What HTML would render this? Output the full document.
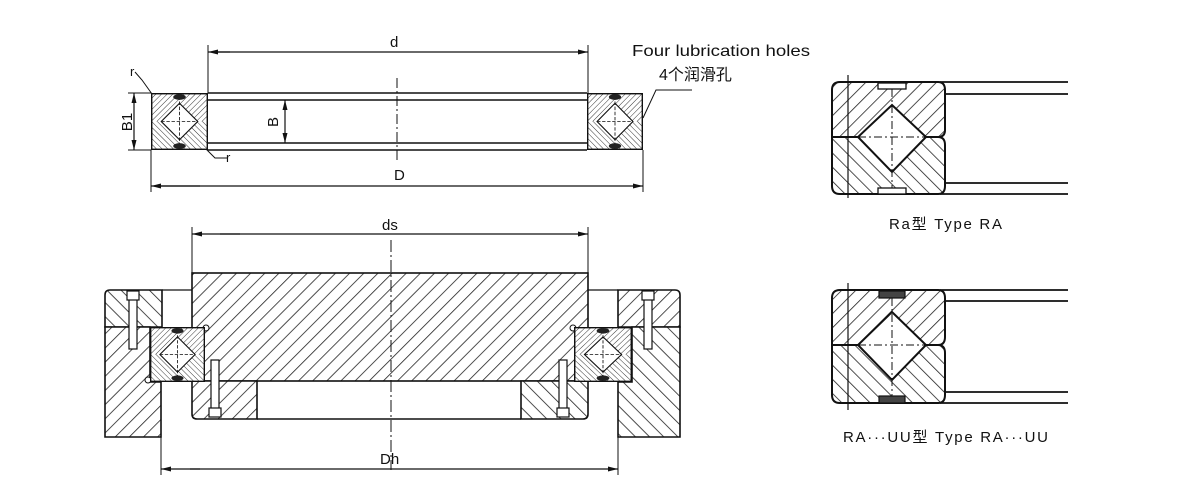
<!DOCTYPE html>
<html><head><meta charset="utf-8"><style>
html,body{margin:0;padding:0;background:#fff;}
svg{display:block;}
text{font-family:"Liberation Sans","Noto Sans CJK SC",sans-serif;fill:#111;}
</style></head><body>
<svg width="1200" height="500" viewBox="0 0 1200 500" xmlns="http://www.w3.org/2000/svg">
<defs>
<pattern id="hs" patternUnits="userSpaceOnUse" width="7" height="7" patternTransform="rotate(45)">
<rect width="7" height="7" fill="#fff"/><line x1="0" y1="0" x2="0" y2="7" stroke="#222" stroke-width="1.6"/></pattern>
<pattern id="hb" patternUnits="userSpaceOnUse" width="7" height="7" patternTransform="rotate(-45)">
<rect width="7" height="7" fill="#fff"/><line x1="0" y1="0" x2="0" y2="7" stroke="#222" stroke-width="1.6"/></pattern>
<pattern id="hs2" patternUnits="userSpaceOnUse" width="10" height="10" patternTransform="rotate(45)">
<rect width="10" height="10" fill="#fff"/><line x1="0" y1="0" x2="0" y2="10" stroke="#222" stroke-width="1.6"/></pattern>
<pattern id="hb2" patternUnits="userSpaceOnUse" width="10" height="10" patternTransform="rotate(-45)">
<rect width="10" height="10" fill="#fff"/><line x1="0" y1="0" x2="0" y2="10" stroke="#222" stroke-width="1.6"/></pattern>
<marker id="ar" markerWidth="10" markerHeight="6" refX="10" refY="3" orient="auto" markerUnits="userSpaceOnUse">
<path d="M0,0.5 L10,3 L0,5.5z" fill="#111"/></marker>
<symbol id="brg" viewBox="0 0 100 100" preserveAspectRatio="none">
<rect x="1" y="1" width="98" height="49" fill="url(#hs)"/>
<rect x="1" y="50" width="98" height="49" fill="url(#hb)"/>
<polygon points="50,18 82,50 50,82 18,50" fill="#fff" stroke="#111" stroke-width="2"/>
<line x1="50" y1="6" x2="50" y2="94" stroke="#111" stroke-width="1.5" stroke-dasharray="6,3"/>
<line x1="18" y1="50" x2="82" y2="50" stroke="#111" stroke-width="1.5" stroke-dasharray="6,3"/>
<ellipse cx="50" cy="7" rx="11" ry="5" fill="#222"/>
<ellipse cx="50" cy="93" rx="11" ry="5" fill="#222"/>
<rect x="1" y="1" width="98" height="98" fill="none" stroke="#111" stroke-width="3"/>
</symbol>
</defs>

<g stroke="#111" stroke-width="1.6" fill="none">
<line x1="208" y1="93" x2="587" y2="93"/>
<line x1="208" y1="100" x2="587" y2="100"/>
<line x1="208" y1="143" x2="587" y2="143"/>
<line x1="208" y1="150" x2="587" y2="150"/>
<line x1="208" y1="45" x2="208" y2="93" stroke-width="1"/>
<line x1="588" y1="45" x2="588" y2="93" stroke-width="1"/>
<line x1="218" y1="52" x2="588" y2="52" marker-end="url(#ar)" stroke-width="1.2"/>
<line x1="230" y1="52" x2="208" y2="52" marker-end="url(#ar)" stroke-width="1.2"/>
<line x1="397" y1="78" x2="397" y2="160" stroke-width="1" stroke-dasharray="10,3,2,3"/>
<line x1="151" y1="150" x2="151" y2="192" stroke-width="1"/>
<line x1="643" y1="150" x2="643" y2="192" stroke-width="1"/>
<line x1="160" y1="186" x2="643" y2="186" marker-end="url(#ar)" stroke-width="1.2"/>
<line x1="200" y1="186" x2="151" y2="186" marker-end="url(#ar)" stroke-width="1.2"/>
<line x1="285" y1="110" x2="285" y2="100" marker-end="url(#ar)" stroke-width="1.2"/>
<line x1="285" y1="110" x2="285" y2="143" marker-end="url(#ar)" stroke-width="1.2"/>
<line x1="128" y1="93" x2="151" y2="93" stroke-width="1"/>
<line x1="128" y1="150" x2="151" y2="150" stroke-width="1"/>
<line x1="134" y1="110" x2="134" y2="93" marker-end="url(#ar)" stroke-width="1.2"/>
<line x1="134" y1="110" x2="134" y2="150" marker-end="url(#ar)" stroke-width="1.2"/>
<path d="M135,72 L142,80 L152,94" stroke-width="1"/>
<path d="M228,158 L215,158 L205,148" stroke-width="1"/>
<path d="M692,90 L656,90 L643,118" stroke-width="1"/>
</g>
<use href="#brg" x="151" y="93" width="57" height="57"/>
<use href="#brg" x="587" y="93" width="56" height="57"/>
<text x="390" y="47" font-size="15">d</text>
<text x="394" y="180" font-size="15">D</text>
<text x="273" y="127" font-size="15" transform="rotate(-90 273 122)" text-anchor="middle">B</text>
<text x="127" y="127" font-size="15" transform="rotate(-90 127 122)" text-anchor="middle">B1</text>
<text x="130" y="76" font-size="13">r</text>
<text x="226" y="162" font-size="13">r</text>
<text x="632" y="56" font-size="16" textLength="178" lengthAdjust="spacingAndGlyphs">Four lubrication holes</text>
<text x="659" y="80" font-size="16">4个润滑孔</text>

<g stroke="#111" stroke-width="1.6">
<path d="M105,295 Q105,290 110,290 L162,290 L162,327 L105,327 Z" fill="url(#hb2)"/>
<path d="M105,327 L150,327 L150,382 L161,382 L161,437 L105,437 Z" fill="url(#hs2)"/>
<line x1="162" y1="290" x2="192" y2="290" stroke-width="1.2"/>
<path d="M618,290 L675,290 Q680,290 680,295 L680,327 L618,327 Z" fill="url(#hs2)"/>
<path d="M632,327 L680,327 L680,437 L618,437 L618,382 L632,382 Z" fill="url(#hb2)"/>
<line x1="588" y1="290" x2="618" y2="290" stroke-width="1.2"/>
<rect x="192" y="273" width="396" height="108" fill="url(#hs2)"/>
<path d="M192,381 L257,381 L257,419 L197,419 Q192,419 192,414 Z" fill="url(#hs2)"/>
<path d="M521,381 L588,381 L588,414 Q588,419 583,419 L521,419 Z" fill="url(#hb2)"/>
<line x1="257" y1="419" x2="521" y2="419"/>
<g fill="#fff" stroke-width="1.2">
<rect x="129" y="294" width="8" height="55"/><rect x="127" y="291" width="12" height="9"/>
<rect x="644" y="294" width="8" height="55"/><rect x="642" y="291" width="12" height="9"/>
<rect x="211" y="360" width="8" height="50"/><rect x="209" y="408" width="12" height="9"/>
<rect x="559" y="360" width="8" height="50"/><rect x="557" y="408" width="12" height="9"/>
</g>
<circle cx="206" cy="328" r="3" fill="#fff" stroke-width="1"/>
<circle cx="148" cy="380" r="3" fill="#fff" stroke-width="1"/>
<circle cx="573" cy="328" r="3" fill="#fff" stroke-width="1"/>
</g>
<use href="#brg" x="150" y="327" width="55" height="55"/>
<use href="#brg" x="574" y="327" width="58" height="55"/>
<g stroke="#111" fill="none">
<line x1="192" y1="227" x2="192" y2="273" stroke-width="1"/>
<line x1="588" y1="227" x2="588" y2="273" stroke-width="1"/>
<line x1="220" y1="234" x2="588" y2="234" marker-end="url(#ar)" stroke-width="1.2"/>
<line x1="240" y1="234" x2="192" y2="234" marker-end="url(#ar)" stroke-width="1.2"/>
<line x1="391" y1="240" x2="391" y2="470" stroke-width="1" stroke-dasharray="12,3,2,3"/>
<line x1="161" y1="437" x2="161" y2="475" stroke-width="1"/>
<line x1="618" y1="437" x2="618" y2="475" stroke-width="1"/>
<line x1="190" y1="469" x2="618" y2="469" marker-end="url(#ar)" stroke-width="1.2"/>
<line x1="200" y1="469" x2="161" y2="469" marker-end="url(#ar)" stroke-width="1.2"/>
</g>
<text x="382" y="230" font-size="15">ds</text>
<text x="380" y="464" font-size="15">Dh</text>

<g stroke="#111" stroke-width="1.8">
<line x1="940" y1="82" x2="1068" y2="82"/>
<line x1="940" y1="94" x2="1068" y2="94"/>
<line x1="940" y1="183" x2="1068" y2="183"/>
<line x1="940" y1="194" x2="1068" y2="194"/>
<line x1="940" y1="290" x2="1068" y2="290"/>
<line x1="940" y1="301" x2="1068" y2="301"/>
<line x1="940" y1="392" x2="1068" y2="392"/>
<line x1="940" y1="403" x2="1068" y2="403"/>
</g>
<g stroke="#111" stroke-width="2">
<path d="M840,82 L938,82 Q945,82 945,90 L945,130 Q945,137 938,137 L832,137 L832,90 Q832,82 840,82 Z" fill="url(#hs2)"/>
<path d="M832,137 L938,137 Q945,137 945,145 L945,186 Q945,194 938,194 L840,194 Q832,194 832,186 Z" fill="url(#hb2)"/>
<polygon points="892,105 926,137 892,172 858,137" fill="#fff"/>
<rect x="878" y="83" width="28" height="6" fill="#fff" stroke-width="1.3"/>
<rect x="878" y="188" width="28" height="6" fill="#fff" stroke-width="1.3"/>
<line x1="892" y1="89" x2="892" y2="188" stroke-width="1" stroke-dasharray="8,3,2,3"/>
<line x1="858" y1="137" x2="926" y2="137" stroke-width="1" stroke-dasharray="8,3,2,3"/>
<line x1="848" y1="75" x2="848" y2="198" stroke-width="1.2"/>
<path d="M840,290 L938,290 Q945,290 945,298 L945,337 Q945,345 938,345 L832,345 L832,298 Q832,290 840,290 Z" fill="url(#hs2)"/>
<path d="M832,345 L938,345 Q945,345 945,353 L945,395 Q945,403 938,403 L840,403 Q832,403 832,395 Z" fill="url(#hb2)"/>
<polygon points="892,312 926,345 892,380 858,345" fill="#fff"/>
<rect x="879" y="291" width="26" height="7" fill="#444" stroke-width="1.2"/>
<rect x="879" y="396" width="26" height="7" fill="#444" stroke-width="1.2"/>
<line x1="892" y1="298" x2="892" y2="396" stroke-width="1" stroke-dasharray="8,3,2,3"/>
<line x1="858" y1="345" x2="926" y2="345" stroke-width="1" stroke-dasharray="8,3,2,3"/>
<line x1="848" y1="283" x2="848" y2="410" stroke-width="1.2"/>
</g>
<text x="889" y="229" font-size="15" textLength="113" lengthAdjust="spacing">Ra型  Type RA</text>
<text x="843" y="442" font-size="15" textLength="205" lengthAdjust="spacing">RA···UU型   Type RA···UU</text>
</svg>
</body></html>
